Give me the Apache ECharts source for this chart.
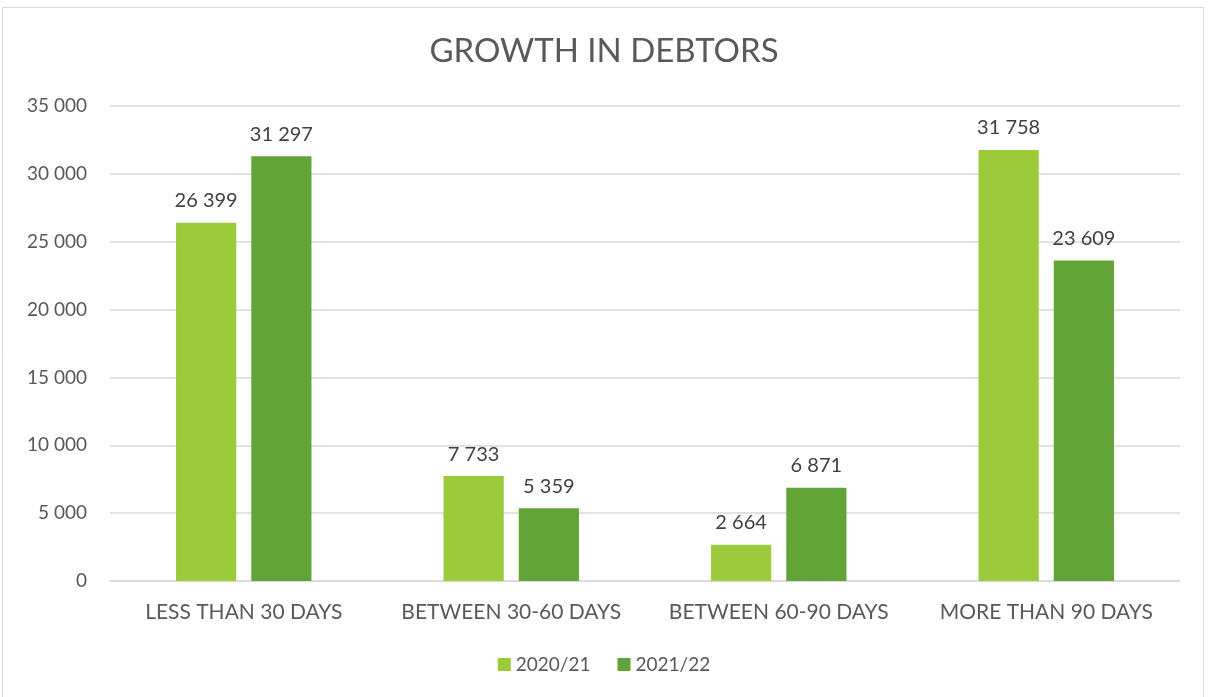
<!DOCTYPE html>
<html>
<head>
<meta charset="utf-8">
<script src="https://cdn.jsdelivr.net/npm/echarts@6/dist/echarts.min.js"></script>
<style>
  html, body { margin: 0; padding: 0; background: #fff; }
  #chart { width: 1208px; height: 697px; }
</style>
</head>
<body>
<div id="chart"></div>
<script>
const categories = ['LESS THAN 30 DAYS', 'BETWEEN 30-60 DAYS', 'BETWEEN 60-90 DAYS', 'MORE THAN 90 DAYS'];
const seriesNames = ['2020/21', '2021/22'];
const values2021 = [26399, 7733, 2664, 31758];
const values2022 = [31297, 5359, 6871, 23609];
const yTicks = [0, 5000, 10000, 15000, 20000, 25000, 30000, 35000];

const fmt = v => String(v).replace(/\B(?=(\d{3})+(?!\d))/g, ' ');
const font = 'Lato, "Open Sans", sans-serif';
const textColor = '#595959';

const chart = echarts.init(document.getElementById('chart'));

chart.setOption({
  animation: false,
  textStyle: { fontFamily: font },
  title: {
    text: 'GROWTH IN DEBTORS',
    left: 'center',
    top: 30,
    textStyle: { fontFamily: font, fontSize: 33, fontWeight: 'normal', color: textColor }
  },
  graphic: [{
    type: 'rect',
    shape: { x: 2.5, y: 7.5, width: 1201, height: 700 },
    style: { fill: 'none', stroke: '#d9d9d9', lineWidth: 1 },
    silent: true
  }],
  legend: {
    data: seriesNames,
    bottom: 18,
    left: 'center',
    itemWidth: 13,
    itemHeight: 13,
    itemGap: 27,
    icon: 'rect',
    textStyle: { fontFamily: font, fontSize: 19, color: textColor }
  },
  grid: { left: 110, right: 28, top: 106, bottom: 116 },
  xAxis: {
    type: 'category',
    data: categories,
    axisLine: { lineStyle: { color: '#d9d9d9', width: 1.5 } },
    axisTick: { show: false },
    axisLabel: { interval: 0, fontFamily: font, fontSize: 21, color: textColor, margin: 21 }
  },
  yAxis: {
    type: 'value',
    min: yTicks[0],
    max: yTicks[yTicks.length - 1],
    interval: 5000,
    axisLine: { show: false },
    axisTick: { show: false },
    splitLine: { lineStyle: { color: '#d9d9d9', width: 1.5 } },
    axisLabel: { fontFamily: font, fontSize: 19, color: textColor, margin: 23, formatter: fmt }
  },
  series: [
    {
      name: seriesNames[0],
      type: 'bar',
      data: values2021,
      barWidth: '22.5%',
      barGap: '25%',
      itemStyle: { color: '#9bca3a' },
      label: { show: true, position: 'top', distance: 12, fontFamily: font, fontSize: 20, color: '#404040', formatter: p => fmt(p.value) }
    },
    {
      name: seriesNames[1],
      type: 'bar',
      data: values2022,
      barWidth: '22.5%',
      itemStyle: { color: '#62a437' },
      label: { show: true, position: 'top', distance: 12, fontFamily: font, fontSize: 20, color: '#404040', formatter: p => fmt(p.value) }
    }
  ]
});
</script>
</body>
</html>
